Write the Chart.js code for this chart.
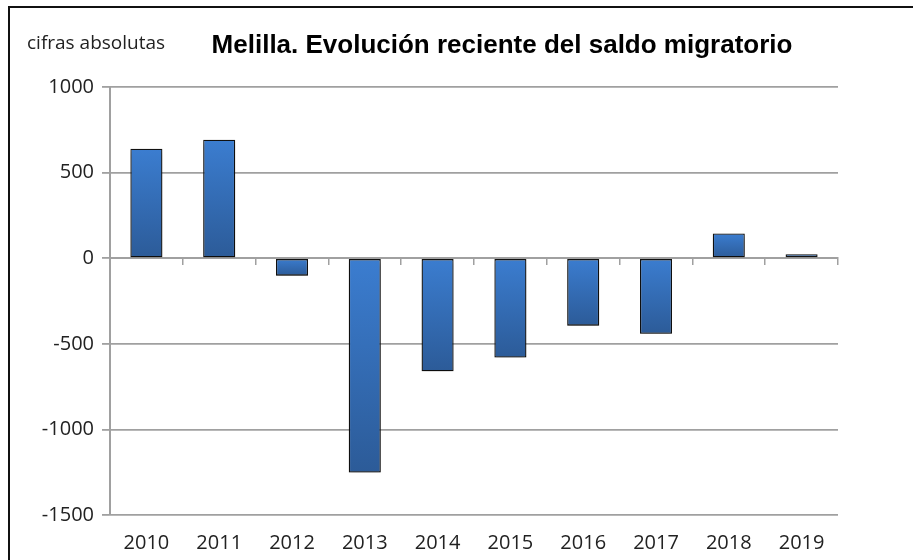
<!DOCTYPE html>
<html>
<head>
<meta charset="utf-8">
<script src="https://cdn.jsdelivr.net/npm/chart.js@4/dist/chart.umd.min.js"></script>
<style>
html,body{margin:0;padding:0;background:#fff;}
#wrap{width:913px;height:560px;position:relative;}
</style>
</head>
<body>
<div id="wrap"><canvas id="c" width="913" height="560"></canvas></div>
<script>
const years = ['2010','2011','2012','2013','2014','2015','2016','2017','2018','2019'];
const saldo = [640, 692, -102, -1252, -660, -580, -394, -442, 144, 23];
const yTicks = [-1500, -1000, -500, 0, 500, 1000];
const titleText = 'Melilla. Evolución reciente del saldo migratorio';
const unitText = 'cifras absolutas';

const gridGray = '#a0a0a0';

function barGradient(context) {
  const chart = context.chart;
  const y = chart.scales.y;
  if (!y || context.dataIndex === undefined) return '#3a78c8';
  const v = context.raw;
  const p0 = y.getPixelForValue(0);
  const p1 = y.getPixelForValue(v);
  const top = Math.min(p0, p1), bot = Math.max(p0, p1);
  if (!isFinite(top) || bot - top < 1) return '#3a78c8';
  const g = chart.ctx.createLinearGradient(0, top, 0, bot);
  g.addColorStop(0, '#3b7dd0');
  g.addColorStop(1, '#2c5b98');
  return g;
}

const framePlugin = {
  id: 'frame',
  beforeDraw(chart) {
    const ctx = chart.ctx;
    ctx.save();
    ctx.fillStyle = '#fff';
    ctx.fillRect(0, 0, chart.width, chart.height);
    ctx.strokeStyle = '#111';
    ctx.lineWidth = 2;
    ctx.beginPath();
    ctx.moveTo(9, 560);
    ctx.lineTo(9, 7);
    ctx.lineTo(913, 7);
    ctx.stroke();
    ctx.fillStyle = '#222';
    ctx.textBaseline = 'alphabetic';
    ctx.textAlign = 'left';
    ctx.font = '19px "Open Sans"';
    ctx.fillText(unitText, 27, 49);
    ctx.fillStyle = '#000';
    ctx.font = 'bold 26px "Liberation Sans", Arial';
    ctx.textAlign = 'center';
    ctx.fillText(titleText, 502, 53);
    ctx.restore();
  },
  beforeDatasetsDraw(chart) {
    const ctx = chart.ctx;
    ctx.save();
    ctx.shadowColor = 'rgba(0,0,0,0.35)';
    ctx.shadowBlur = 5;
    ctx.shadowOffsetY = 3;
  },
  afterDatasetsDraw(chart) {
    chart.ctx.restore();
  }
};

new Chart(document.getElementById('c'), {
  type: 'bar',
  data: {
    labels: years,
    datasets: [{
      data: saldo,
      backgroundColor: barGradient,
      borderColor: '#111',
      borderWidth: 1.3,
      borderSkipped: false,
      barPercentage: 0.44,
      categoryPercentage: 1.0
    }]
  },
  options: {
    responsive: false,
    animation: false,
    layout: { padding: { left: 0, right: 75, top: 87, bottom: 0 } },
    plugins: { legend: { display: false }, title: { display: false }, tooltip: { enabled: false } },
    scales: {
      x: {
        position: 'bottom',
        afterFit(axis) { axis.height = 45; },
        grid: { display: false },
        border: { display: false },
        ticks: { color: '#222', font: { family: 'Open Sans', size: 20 }, padding: 8, maxRotation: 0 }
      },
      x2: {
        type: 'category',
        labels: years,
        position: { y: 0 },
        offset: true,
        grid: { display: true, drawOnChartArea: false, drawTicks: true, tickLength: 6, color: gridGray, lineWidth: 1.5, offset: true },
        border: { display: true, color: gridGray, width: 2 },
        ticks: { color: 'rgba(0,0,0,0)', font: { size: 1 }, padding: 0 }
      },
      y: {
        min: -1500,
        max: 1000,
        afterBuildTicks(axis) { axis.ticks = yTicks.map(v => ({ value: v })); },
        afterFit(axis) { axis.width = 110; },
        grid: { color: gridGray, lineWidth: 1.8, tickLength: 8 },
        border: { display: true, color: gridGray, width: 2 },
        ticks: { color: '#222', font: { family: 'Open Sans', size: 20 }, padding: 8, callback: (v) => String(v) }
      }
    }
  },
  plugins: [framePlugin]
});
</script>
</body>
</html>
